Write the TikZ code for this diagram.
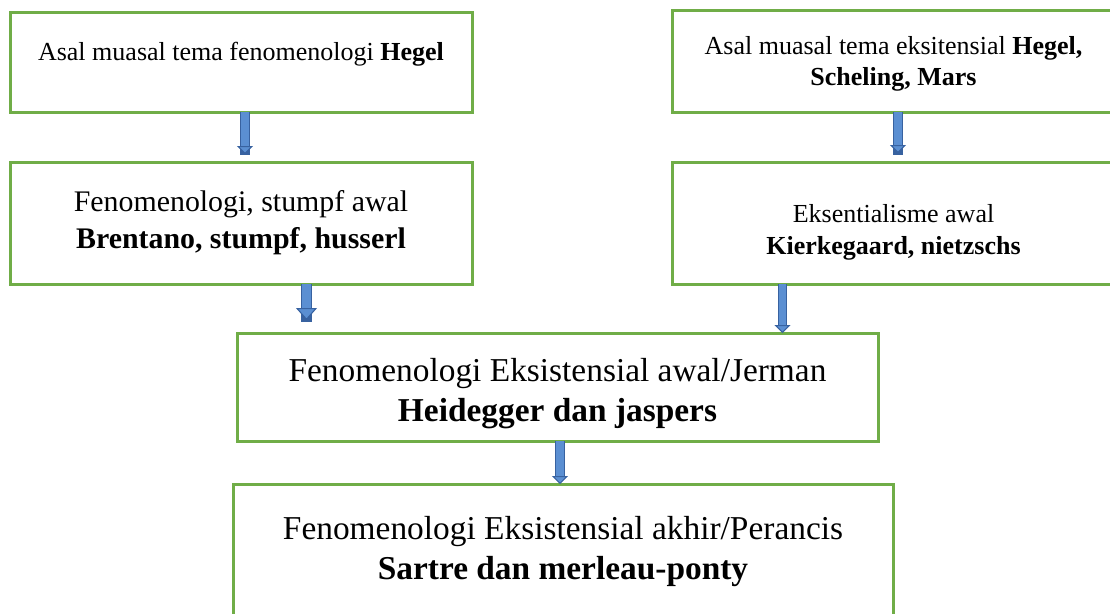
\documentclass[tikz,border=0pt]{standalone}
\usepackage{fontspec}
\setmainfont{Liberation Serif}
\usetikzlibrary{arrows.meta, positioning}

\definecolor{hijau}{RGB}{112,173,71}
\definecolor{biru}{RGB}{91,143,210}
\definecolor{birutua}{RGB}{56,98,160}

\begin{document}
\begin{tikzpicture}[
    kotak/.style={draw=hijau, line width=0.06cm, align=center,
                  inner sep=2pt, outer sep=0pt},
    kecil/.style={font=\fontsize{14.8}{18}\selectfont},
    sedang/.style={font=\fontsize{17}{21}\selectfont},
    besar/.style={font=\fontsize{19}{23}\selectfont},
    panah/.style={line width=0.15cm, biru,
                  -{Triangle[width=0.32cm, length=0.16cm, line width=0.6pt, color=birutua, fill=biru]},
                  preaction={draw=birutua, line width=0.19cm, shorten >=0.15cm, -}},
    panahbesar/.style={line width=0.19cm, biru,
                  -{Triangle[width=0.42cm, length=0.24cm, line width=0.6pt, color=birutua, fill=biru]},
                  preaction={draw=birutua, line width=0.23cm, shorten >=0.23cm, -}}]

    \useasboundingbox (0,0) rectangle (22.2,-12.26);
    \clip (0,0) rectangle (22.2,-12.26);

    % baris atas
    \node[kotak, kecil, minimum width=9.24cm, minimum height=2cm] (hegel) at (4.82,-1.24)
      {Asal muasal tema fenomenologi \textbf{Hegel}\rule[-0.44cm]{0pt}{0.44cm}};
    \node[kotak, kecil, minimum width=8.86cm, minimum height=2.04cm] (eksis) at (17.87,-1.22)
      {\rule{0pt}{0.48cm}Asal muasal tema eksitensial \textbf{Hegel,}\\ \textbf{Scheling, Mars}};

    % baris kedua
    \node[kotak, sedang, minimum width=9.24cm, minimum height=2.44cm] (brentano) at (4.82,-4.46)
      {Fenomenologi, stumpf awal\\ \textbf{Brentano, stumpf, husserl}};
    \node[kotak, kecil, minimum width=8.86cm, minimum height=2.44cm] (kierk) at (17.87,-4.46)
      {\rule{0pt}{0.74cm}Eksentialisme awal\\ \textbf{Kierkegaard, nietzschs}};

    % baris bawah
    \node[kotak, besar, minimum width=12.82cm, minimum height=2.16cm] (jerman) at (11.15,-7.74)
      {\rule{0pt}{0.72cm}Fenomenologi Eksistensial awal/Jerman\\ \textbf{Heidegger dan jaspers}};
    \node[kotak, besar, minimum width=13.2cm, minimum height=2.7cm] (perancis) at (11.26,-11.03)
      {Fenomenologi Eksistensial akhir/Perancis\\ \textbf{Sartre dan merleau-ponty}};

    % panah
    \draw[panah, shorten >=0.16cm] ([xshift=0.08cm]hegel.south) -- ([xshift=0.08cm]hegel.south |- brentano.north);
    \draw[panah, shorten >=0.18cm] ([xshift=0.09cm]eksis.south) -- ([xshift=0.09cm]eksis.south |- kierk.north);
    \draw[panahbesar, shorten >=0.26cm] ([xshift=1.31cm]brentano.south) -- ([xshift=1.31cm]brentano.south |- jerman.north);
    \draw[panah] ([xshift=-2.22cm]kierk.south) -- ([xshift=-2.22cm]kierk.south |- jerman.north);
    \draw[panah] ([xshift=0.05cm]jerman.south) -- ([xshift=0.05cm]jerman.south |- perancis.north);
\end{tikzpicture}
\end{document}
